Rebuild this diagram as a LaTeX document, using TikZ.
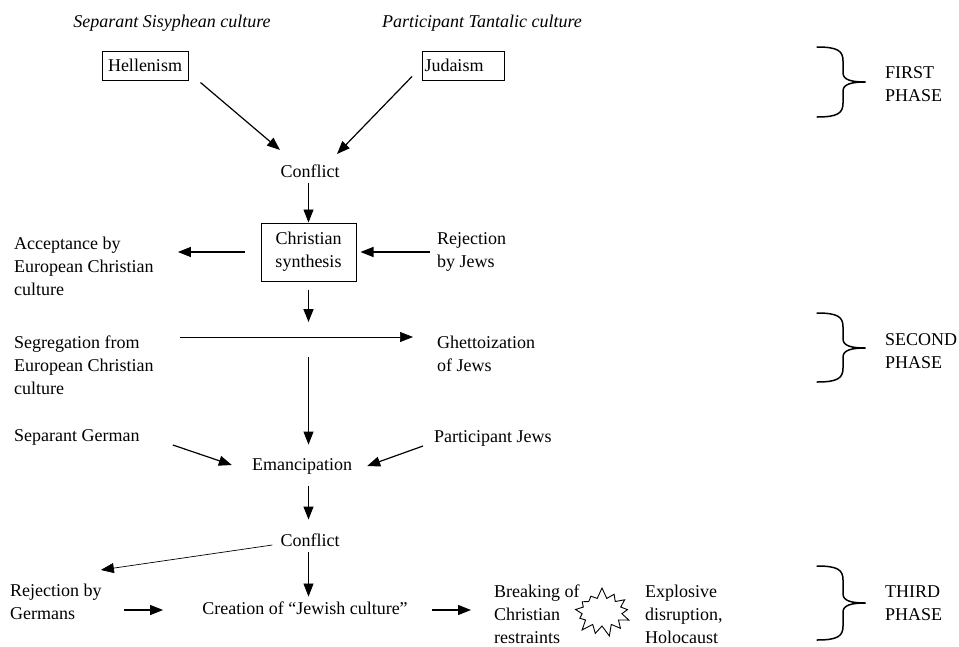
\documentclass[tikz,border=0pt]{standalone}
\usepackage{fontspec}
\setmainfont{Liberation Serif}
\usetikzlibrary{arrows.meta, shapes.symbols, positioning}
\tikzset{
	plainnode/.style={
			inner sep=2pt,
			font=\fontsize{18}{23}\selectfont,
			text height=12.5pt,
			text depth=4pt
		},
	headnode/.style={
			plainnode,
			font=\fontsize{18}{23}\selectfont\itshape
		},
	blocknode/.style={
			inner sep=2pt,
			font=\fontsize{18}{23}\selectfont,
			align=left,
			anchor=west
		},
	culturebox/.style={
			draw,
			line width=1pt,
			inner sep=0pt,
			minimum height=29pt,
			font=\fontsize{18}{23}\selectfont
		},
	starnode/.style={
			starburst,
			draw,
			line width=0.9pt,
			minimum width=62pt,
			minimum height=50pt,
			starburst points=13,
			starburst point height=11pt,
			random starburst=7,
			inner sep=0pt
		},
	flowarrow/.style={
			-{Triangle[length=13pt,width=10pt]},
			line width=1.2pt
		},
	thinarrow/.style={
			flowarrow,
			line width=0.7pt
		},
	phasebrace/.style={
			line width=1.5pt,
			line cap=round
		}
}

\begin{document}
\begin{tikzpicture}[x=1pt, y=-1pt]
\useasboundingbox (0,0) rectangle (959,646);
				\node[headnode] at (172,23) (sisyph) {Separant Sisyphean culture};
				\node[headnode] at (482,23) (tantal) {Participant Tantalic culture};
				\node[culturebox, minimum width=86pt] at (145,65.5) (hellen) {Hellenism};
				\node[culturebox, anchor=west, text width=78pt, inner xsep=2pt, align=left] at (422,65.5) (judaism) {Judaism};
				\node[plainnode] at (310,173) (conflictA) {Conflict};
				\node[culturebox, minimum width=95pt, minimum height=58pt, align=center] at (308.5,252) (synth) {Christian\\synthesis};
				\node[blocknode] at (12,266) (accept) {Acceptance by\\European Christian\\culture};
				\node[blocknode] at (435,252) (rejjews) {Rejection\\by Jews};
				\coordinate (split) at (308.5,337);
				\node[blocknode] at (12,365) (segreg) {Segregation from\\European Christian\\culture};
				\node[blocknode] at (435,354) (ghetto) {Ghettoization\\of Jews};
				\node[plainnode, anchor=west] at (12,437) (sepgerm) {Separant German};
				\node[plainnode, anchor=west] at (432,438) (partjews) {Participant Jews};
				\node[plainnode] at (302,466) (emancip) {Emancipation};
				\node[plainnode] at (310,542) (conflictB) {Conflict};
				\node[blocknode] at (8,602) (rejgerm) {Rejection by\\Germans};
				\node[plainnode] at (305,610) (creation) {Creation of ``Jewish culture''};
				\node[blocknode] at (492,614) (breaking) {Breaking of\\Christian\\restraints};
				\node[starnode] at (602,612) (explosion) {};
				\node[blocknode] at (643,614) (explosive) {Explosive\\disruption,\\Holocaust};
				\node[blocknode] at (883,84.5) (first) {FIRST\\PHASE};
				\node[blocknode] at (883,351) (second) {SECOND\\PHASE};
				\node[blocknode] at (883,603) (third) {THIRD\\PHASE};

				\draw[flowarrow] ([shift={(12,2)}]hellen.south east) -- ([shift={(-30,-23)}]conflictA.center);
				\draw[flowarrow] ([shift={(-10,-4)}]judaism.south west) -- ([shift={(27,-19)}]conflictA.center);
				\draw[thinarrow] (conflictA.south -| synth.north) -- (synth.north);
				\draw[flowarrow] ([xshift=-16pt]synth.west) -- ([xshift=22pt]synth.west -| accept.east);
				\draw[flowarrow] ([xshift=-5pt]rejjews.west) -- ([xshift=4pt]synth.east);
				\draw[flowarrow, line width=1.6pt] ([yshift=-8pt]synth.south) -- ([yshift=15pt]split);
				\draw[thinarrow] ([xshift=24pt]split -| segreg.east) -- ([xshift=-22pt]split -| ghetto.west);
				\draw[flowarrow, line width=0.9pt] ([yshift=-20pt]split) -- ([yshift=11pt]emancip.north -| split);
				\draw[flowarrow] ([shift={(31,8)}]sepgerm.east) -- ([shift={(-18,-1)}]emancip.west);
				\draw[flowarrow] ([shift={(-9,8)}]partjews.west) -- ([shift={(13,0)}]emancip.east);
				\draw[flowarrow] ([yshift=-10pt]emancip.south -| split) -- ([yshift=12pt]conflictB.north -| split);
				\draw[thinarrow] ([shift={(-6,3)}]conflictB.west) -- ([shift={(-3,-12)}]rejgerm.north east);
				\draw[thinarrow] (conflictB.south -| split) -- ([yshift=3pt]creation.north -| split);
				\draw[flowarrow] ([xshift=20pt]rejgerm.east |- creation.west) -- ([xshift=-37pt]creation.west);
				\draw[flowarrow] ([xshift=22pt]creation.east) -- ([xshift=-21pt]creation.east -| breaking.west);

				\foreach \t/\m/\b in {47/82/117, 313/348/382, 566/603/640} {
					\draw[phasebrace] (865,\m) .. controls (852,\m) and (843,\m-2) .. (843,\m-9) -- (843,\t+14) .. controls (843,\t+4) and (838,\t) .. (817,\t);
					\draw[phasebrace] (865,\m) .. controls (852,\m) and (843,\m+2) .. (843,\m+9) -- (843,\b-14) .. controls (843,\b-4) and (838,\b) .. (817,\b);
				}
			\end{tikzpicture}
\end{document}
